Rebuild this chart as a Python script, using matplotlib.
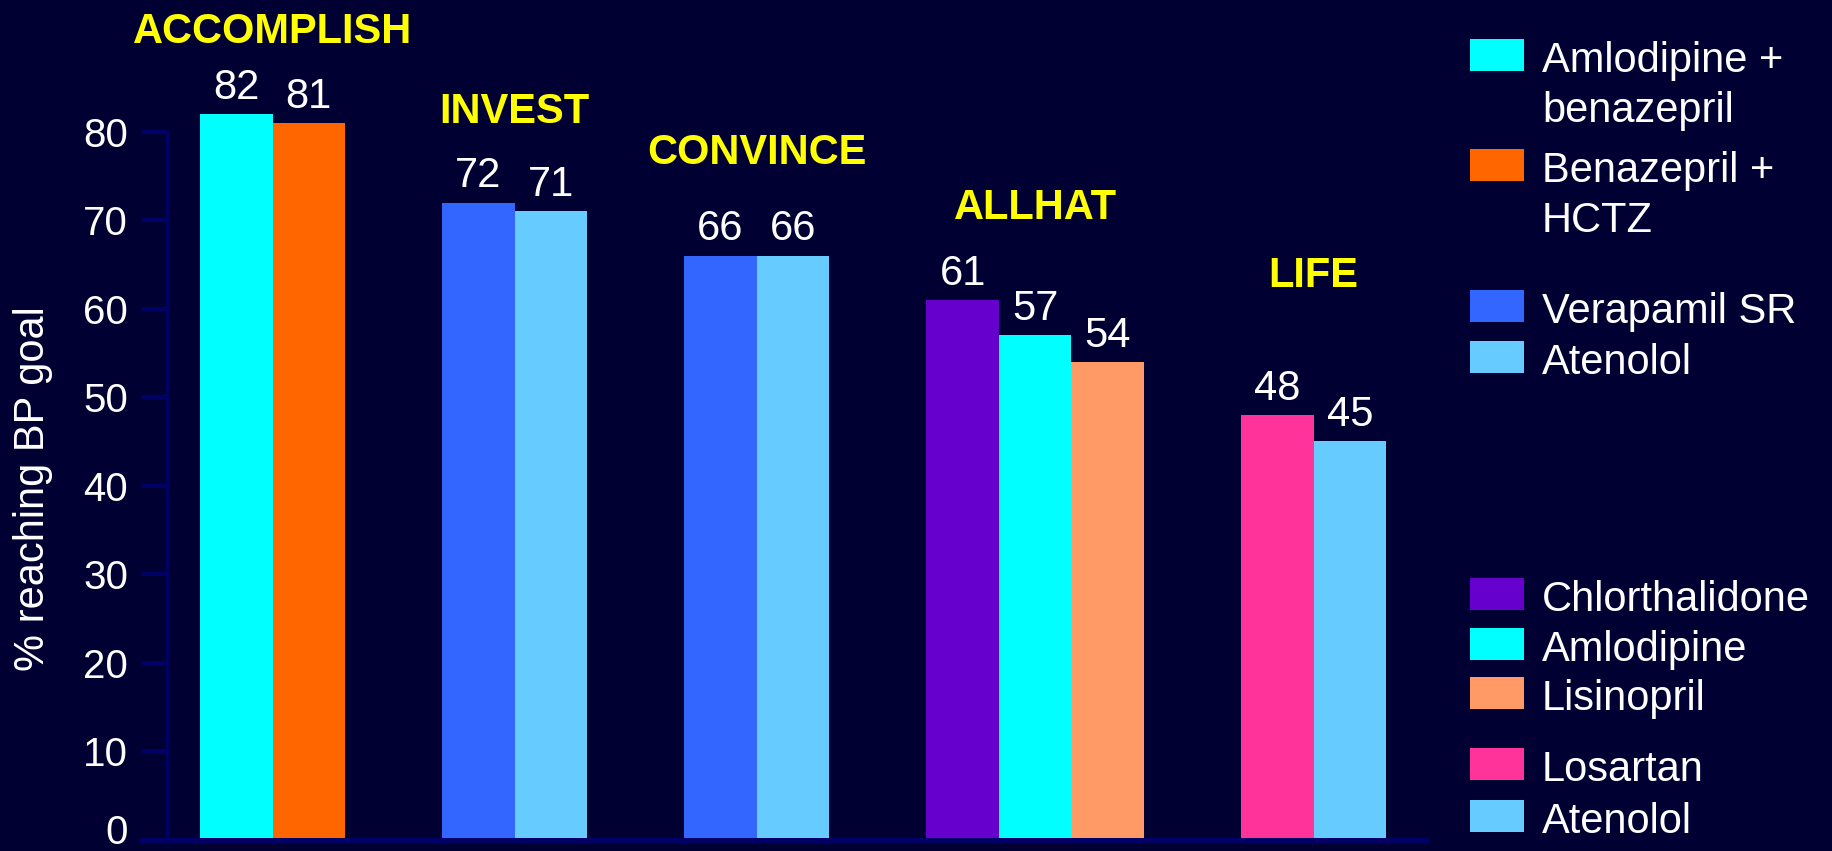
import matplotlib
matplotlib.use('Agg')
import matplotlib.pyplot as plt
import matplotlib.transforms as mtransforms
from matplotlib.patches import Rectangle

plt.rcParams['font.family'] = ['Liberation Sans', 'DejaVu Sans']

# Percent of patients reaching BP goal, per trial and treatment arm
trials = ['ACCOMPLISH', 'INVEST', 'CONVINCE', 'ALLHAT', 'LIFE']
arm_values = [
    [82, 81],
    [72, 71],
    [66, 66],
    [61, 57, 54],
    [48, 45],
]
arm_colors = [
    ['#00FFFF', '#FF6600'],
    ['#3366FF', '#66CCFF'],
    ['#3366FF', '#66CCFF'],
    ['#6600CC', '#00FFFF', '#FF9966'],
    ['#FF3399', '#66CCFF'],
]
y_ticks = [0, 10, 20, 30, 40, 50, 60, 70, 80]
y_label = '% reaching BP goal'

legend_labels = [
    ['Amlodipine +', 'benazepril'],
    ['Benazepril +', 'HCTZ'],
    ['Verapamil SR'],
    ['Atenolol'],
    ['Chlorthalidone'],
    ['Amlodipine'],
    ['Lisinopril'],
    ['Losartan'],
    ['Atenolol'],
]
legend_colors = ['#00FFFF', '#FF6600', '#3366FF', '#66CCFF',
                 '#6600CC', '#00FFFF', '#FF9966', '#FF3399', '#66CCFF']

BG = '#000033'
AXIS = '#000066'
W, H = 1832, 851

fig = plt.figure(figsize=(W / 100, H / 100), dpi=100, facecolor=BG)

# plot box: zero line at y=839.7 px, 8.85 px per percent
px_per_unit = 8.85
y_top = 94
ax = fig.add_axes([142 / W, 1 - 839.7 / H, (1426 - 142) / W, y_top * px_per_unit / H])
ax.set_facecolor(BG)

# trial name heights (data units) above each group
title_y = [90, 81, 76.4, 70.1, 62.4]
gap = 1.34
left = 0.0
for name, vals, cols, ty in zip(trials, arm_values, arm_colors, title_y):
    xs = [left + i for i in range(len(vals))]
    ax.bar(xs, vals, width=1.0, align='edge', color=cols, linewidth=0)
    for x, v in zip(xs, vals):
        ax.annotate(str(v), (x + 0.5, v), xytext=(0, 11), textcoords='offset points',
                    ha='center', va='baseline', color='white', fontsize=30,
                    annotation_clip=False)
    ax.text(left + len(vals) / 2, ty, name, ha='center', va='baseline',
            color='#FFFF00', fontsize=30, fontweight='bold', clip_on=False)
    left += len(vals) + gap

ax.set_xlim(-0.8, 16.91)
ax.set_ylim(0, y_top)

for side in ['top', 'right']:
    ax.spines[side].set_visible(False)
ax.spines['left'].set_position(('data', -0.455))
ax.spines['left'].set_bounds(0, 80)
ax.spines['left'].set_color(AXIS)
ax.spines['left'].set_linewidth(2.5)
ax.spines['bottom'].set_color(AXIS)
ax.spines['bottom'].set_linewidth(3.6)

ax.set_xticks([])
ax.set_yticks(y_ticks)
ax.tick_params(axis='y', direction='out', length=18, width=2.9, color=AXIS,
               labelcolor='white', labelsize=29, pad=10)

# lift the "0" label so it stays inside the figure
fig.canvas.draw()
zero_label = ax.get_yticklabels()[0]
zero_label.set_transform(zero_label.get_transform() +
                         mtransforms.ScaledTranslation(0, 11 / 100, fig.dpi_scale_trans))

fig.text(33 / W, 1 - 489 / H, y_label, rotation=90, ha='center', va='center',
         color='white', fontsize=30)

# legend drawn by hand, grouped by trial
square_tops = [39, 149, 290, 341, 578, 628, 677, 748, 800]
for top, lines, col in zip(square_tops, legend_labels, legend_colors):
    fig.add_artist(Rectangle((1470 / W, 1 - (top + 32) / H), 54 / W, 32 / H,
                             transform=fig.transFigure, facecolor=col, edgecolor='none'))
    for i, line in enumerate(lines):
        base = top + 33 + i * 50
        fig.text(1542 / W, 1 - base / H, line, ha='left', va='baseline',
                 color='white', fontsize=30)

fig.savefig('out.png', dpi=100, facecolor=BG)
